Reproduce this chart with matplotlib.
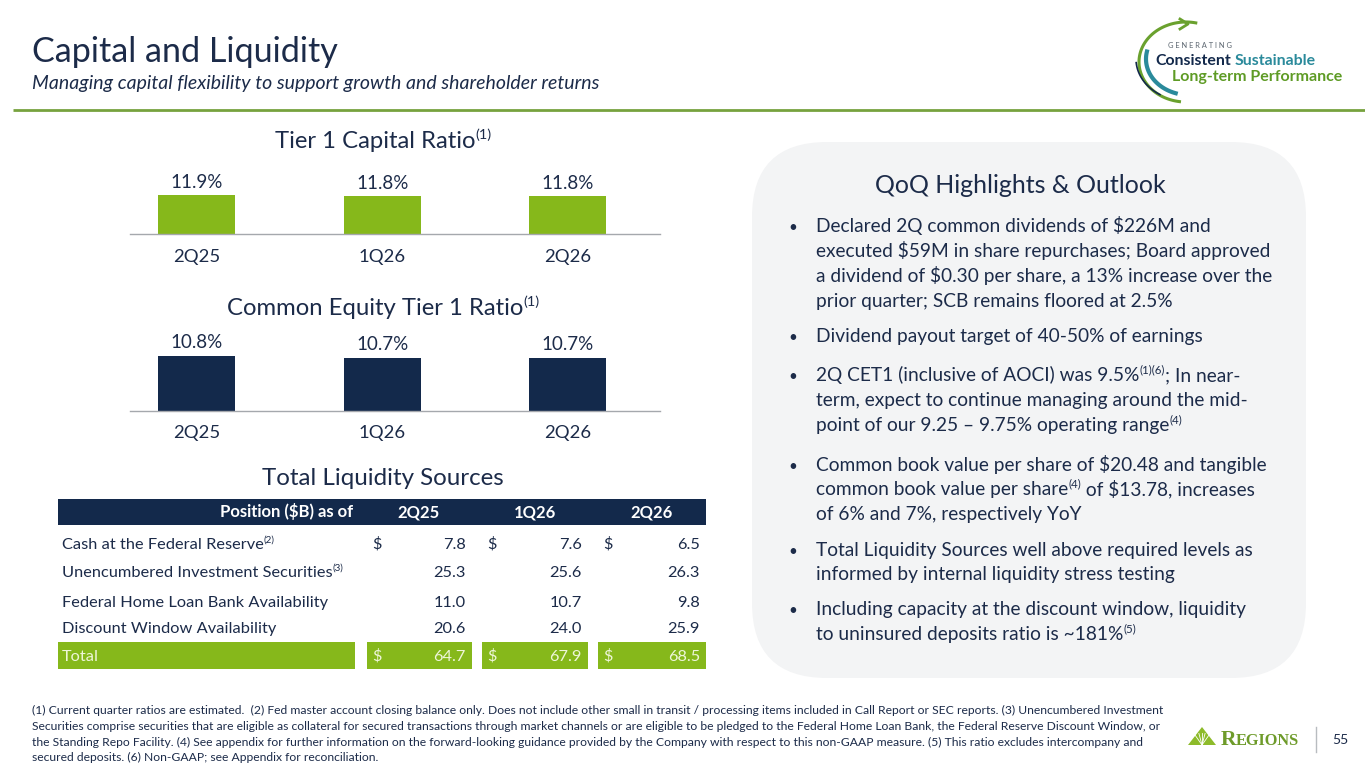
import matplotlib
matplotlib.use('Agg')
import matplotlib.pyplot as plt
from matplotlib.patches import FancyBboxPatch, Rectangle, Polygon
import numpy as np

plt.rcParams['font.family'] = ['Lato', 'DejaVu Sans']

# Colours
NAVY_TEXT = '#1C2B49'
BAR_NAVY = '#13294B'
BAR_GREEN = '#86B81B'
RULE_GREEN = '#77A23E'
PANEL_GRAY = '#F3F4F5'
AXIS_GRAY = '#A5A8AD'
TEAL = '#2A8A9B'
LOGO_GREEN = '#5E9B25'

# Data
quarters = ['2Q25', '1Q26', '2Q26']
tier1_ratio = [11.9, 11.8, 11.8]
cet1_ratio = [10.8, 10.7, 10.7]

liq_labels = ['Cash at the Federal Reserve', 'Unencumbered Investment Securities',
              'Federal Home Loan Bank Availability', 'Discount Window Availability']
liq_notes = ['(2)', '(3)', '', '']
cash_fed = [7.8, 7.6, 6.5]
unencumbered = [25.3, 25.6, 26.3]
fhlb_avail = [11.0, 10.7, 9.8]
discount_avail = [20.6, 24.0, 25.9]
liq_total = [64.7, 67.9, 68.5]

bullets = [
    [[('Declared 2Q common dividends of $226M and', 0)],
     [('executed $59M in share repurchases; Board approved', 0)],
     [('a dividend of $0.30 per share, a 13% increase over the', 0)],
     [('prior quarter; SCB remains floored at 2.5%', 0)]],
    [[('Dividend payout target of 40-50% of earnings', 0)]],
    [[('2Q CET1 (inclusive of AOCI) was 9.5%', 0), ('(1)(6)', 1), ('; In near-', 0)],
     [('term, expect to continue managing around the mid-', 0)],
     [('point of our 9.25 \u2013 9.75% operating range', 0), ('(4)', 1)]],
    [[('Common book value per share of $20.48 and tangible', 0)],
     [('common book value per share', 0), ('(4)', 1), (' of $13.78, increases', 0)],
     [('of 6% and 7%, respectively YoY', 0)]],
    [[('Total Liquidity Sources well above required levels as', 0)],
     [('informed by internal liquidity stress testing', 0)]],
    [[('Including capacity at the discount window, liquidity', 0)],
     [('to uninsured deposits ratio is ~181%', 0), ('(5)', 1)]],
]

footnotes = [
    '(1) Current quarter ratios are estimated.  (2) Fed master account closing balance only. Does not include other small in transit / processing items included in Call Report or SEC reports. (3) Unencumbered Investment',
    'Securities comprise securities that are eligible as collateral for secured transactions through market channels or are eligible to be pledged to the Federal Home Loan Bank, the Federal Reserve Discount Window, or',
    'the Standing Repo Facility. (4) See appendix for further information on the forward-looking guidance provided by the Company with respect to this non-GAAP measure. (5) This ratio excludes intercompany and',
    'secured deposits. (6) Non-GAAP; see Appendix for reconciliation.',
]

# Canvas (1 data unit = 1 pixel, y down)
W, H = 1365, 768
fig = plt.figure(figsize=(W / 100, H / 100), dpi=100)
bg = fig.add_axes([0, 0, 1, 1])
bg.set_xlim(0, W)
bg.set_ylim(H, 0)
bg.axis('off')
renderer = fig.canvas.get_renderer()


def rich(x, y, parts, size, color=NAVY_TEXT, ha='left', **kw):
    """Baseline text made of normal and superscript pieces."""
    arts, cx = [], 0.0
    em = size * 100 / 72
    for s, sup in parts:
        if sup:
            t = bg.text(x + cx, y - 0.38 * em, s, fontsize=size * 0.6, color=color,
                        va='baseline', ha='left', parse_math=False, **kw)
        else:
            t = bg.text(x + cx, y, s, fontsize=size, color=color,
                        va='baseline', ha='left', parse_math=False, **kw)
        cx += t.get_window_extent(renderer).width
        arts.append(t)
    shift = {'left': 0, 'center': cx / 2, 'right': cx}[ha]
    for t in arts:
        t.set_x(t.get_position()[0] - shift)
    return arts


# 1. Header
bg.text(32, 62, 'Capital and Liquidity', fontsize=24.6, color=NAVY_TEXT, va='baseline')
bg.text(32, 89, 'Managing capital flexibility to support growth and shareholder returns',
        fontsize=14, style='italic', color=NAVY_TEXT, va='baseline')
bg.plot([13, W], [110, 110], color=RULE_GREEN, lw=2, solid_capstyle='butt')

# logo top right
t_arc = np.radians(np.linspace(78, 262, 80))
bg.plot(1186 + 47 * np.cos(t_arc), 62 - 40 * np.sin(t_arc), color='#6AA12E', lw=2.2)
bg.plot([1180, 1188, 1180], [19, 24, 29], color='#6AA12E', lw=2)
t_arc = np.radians(np.linspace(168, 252, 40))
bg.plot(1189 + 43 * np.cos(t_arc), 59 - 36 * np.sin(t_arc), color=TEAL, lw=3)
t_arc = np.radians(np.linspace(185, 238, 30))
bg.plot(1187 + 51 * np.cos(t_arc), 59 - 42 * np.sin(t_arc), color=BAR_NAVY, lw=1.2)
bg.text(1168, 48, 'G E N E R A T I N G', fontsize=5.4, color='#5C6670', va='baseline')
rich(1155, 65, [('Consistent', 0)], 11.4, color=BAR_NAVY, fontweight='bold')
rich(1235, 65, [('Sustainable', 0)], 11.4, color=TEAL, fontweight='bold')
rich(1172, 81, [('Long-term Performance', 0)], 11.5, color=LOGO_GREEN, fontweight='bold')


# 2. Ratio bar charts
def bar_axes(x0, x1, ytop, ybase):
    ax = fig.add_axes([x0 / W, 1 - ybase / H, (x1 - x0) / W, (ybase - ytop) / H])
    ax.patch.set_alpha(0)
    for s in ['top', 'right', 'left']:
        ax.spines[s].set_visible(False)
    ax.spines['bottom'].set_color(AXIS_GRAY)
    ax.spines['bottom'].set_linewidth(1)
    ax.set_yticks([])
    ax.tick_params(axis='x', length=0, pad=10.5, labelsize=13.3, labelcolor=NAVY_TEXT)
    return ax


x_pos = np.arange(len(quarters))

ax1 = bar_axes(130, 660, 150, 234)
ax1.bar(x_pos, tier1_ratio, width=0.415, color=BAR_GREEN)
ax1.set_xlim(-0.36, 2.497)
ax1.set_ylim(8.8, 15.5)
ax1.set_xticks(x_pos, quarters)
for i, v in enumerate(tier1_ratio):
    ax1.annotate(f'{v:.1f}%', (i, v), xytext=(0, 3), textcoords='offset points',
                 ha='center', va='bottom', fontsize=13.5, color=NAVY_TEXT)
rich(383, 148, [('Tier 1 Capital Ratio', 0), ('(1)', 1)], 17.2, ha='center')

ax2 = bar_axes(130, 660, 320, 410.5)
ax2.bar(x_pos, cet1_ratio, width=0.415, color=BAR_NAVY)
ax2.set_xlim(-0.36, 2.497)
ax2.set_ylim(8.1, 12.58)
ax2.set_xticks(x_pos, quarters)
for i, v in enumerate(cet1_ratio):
    ax2.annotate(f'{v:.1f}%', (i, v), xytext=(0, 3.5), textcoords='offset points',
                 ha='center', va='bottom', fontsize=13.5, color=NAVY_TEXT)
rich(383, 315, [('Common Equity Tier 1 Ratio', 0), ('(1)', 1)], 17.2, ha='center')

# 3. Liquidity table
rich(383, 485, [('Total Liquidity Sources', 0)], 17.4, ha='center')
bg.add_patch(Rectangle((58, 499), 648, 26, color=BAR_NAVY, lw=0))
dollar_x = [372, 487, 603]
right_x = [466, 582, 700]
rich(353, 517, [('Position ($B) as of', 0)], 12, color='white', ha='right', fontweight='bold')
for q, dx, rx in zip(quarters, dollar_x, right_x):
    rich((dx + rx) / 2, 517, [(q, 0)], 12, color='white', ha='center', fontweight='bold')

row_vals = [cash_fed, unencumbered, fhlb_avail, discount_avail]
row_base = [549, 577, 607, 633]
for lab, note, vals, yb in zip(liq_labels, liq_notes, row_vals, row_base):
    parts = [(lab, 0)] + ([(note, 1)] if note else [])
    rich(62, yb, parts, 11.8)
    for j, v in enumerate(vals):
        rich(right_x[j], yb, [(f'{v:.1f}', 0)], 11.8, ha='right')
        if lab == liq_labels[0]:
            rich(dollar_x[j], yb, [('$', 0)], 11.8)

TOTAL_TXT = '#EEF6D8'
bg.add_patch(Rectangle((58, 642), 297, 27, color=BAR_GREEN, lw=0))
for dx, rx in zip(dollar_x, right_x):
    bg.add_patch(Rectangle((dx - 5, 642), rx - dx + 11, 27, color=BAR_GREEN, lw=0))
rich(62, 661, [('Total', 0)], 11.8, color=TOTAL_TXT)
for j, v in enumerate(liq_total):
    rich(dollar_x[j], 661, [('$', 0)], 11.8, color=TOTAL_TXT)
    rich(right_x[j], 661, [(f'{v:.1f}', 0)], 11.8, color=TOTAL_TXT, ha='right')

# 4. Highlights panel
bg.add_patch(FancyBboxPatch((752, 142), 554, 536, boxstyle='round,pad=0,rounding_size=75',
                            facecolor=PANEL_GRAY, edgecolor='none'))
rich(1020, 193, [('QoQ Highlights & Outlook', 0)], 18, ha='center')
line_base = [[232, 257, 282, 307], [342], [381, 406, 431], [471, 495, 520], [556, 580], [615, 640]]
for blines, ys in zip(bullets, line_base):
    bg.text(793, ys[0], '\u2022', fontsize=11, color=NAVY_TEXT, va='baseline', ha='center')
    for parts, yb in zip(blines, ys):
        rich(816, yb, parts, 13.8)

# 5. Footnotes and Regions logo
for k, line in enumerate(footnotes):
    bg.text(32, 714.5 + 15.5 * k, line, fontsize=8.75, color=NAVY_TEXT, va='baseline', parse_math=False)

bg.add_patch(Polygon([(1188, 745), (1216, 745), (1202, 727)], closed=True, color='#8DBB2A', lw=0))
for ang in np.radians([55, 75, 90, 105, 125]):
    bg.plot([1202, 1202 + 12 * np.cos(ang)], [745, 745 - 12 * np.sin(ang)], color='white', lw=0.6)
rich(1221, 745, [('R', 0)], 15.5, color='#6E9B2A', family='Liberation Serif', fontweight='bold')
rich(1236, 745, [('EGIONS', 0)], 11.8, color='#6E9B2A', family='Liberation Serif', fontweight='bold')
bg.plot([1316, 1316], [727, 752], color='#B8BCC0', lw=1)
bg.text(1340, 740, '55', fontsize=10, color=NAVY_TEXT, va='center', ha='center')

fig.savefig('out.png', dpi=100, facecolor='white')
